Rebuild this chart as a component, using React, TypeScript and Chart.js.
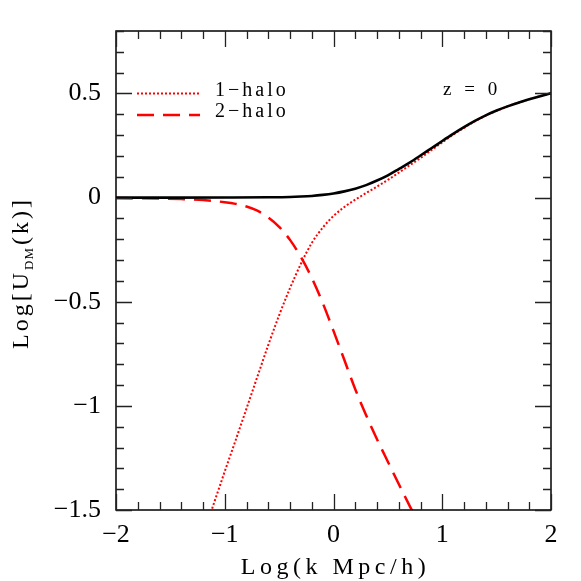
import React, { useEffect, useRef } from "react";
import { Chart, registerables } from "chart.js";

Chart.register(...registerables);

// ---- data ----
const totalLogK = [-2, -1.5, -1, -0.6, -0.4, -0.3, -0.2, -0.1, 0, 0.1, 0.2, 0.3, 0.4, 0.5, 0.6, 0.7, 0.8, 0.9, 1.0, 1.1, 1.2, 1.3, 1.4, 1.5, 1.6, 1.7, 1.8, 1.9, 2.0];
const totalU = [0, 0, 0.0005, 0.0015, 0.003, 0.005, 0.008, 0.013, 0.02, 0.03, 0.043, 0.06, 0.082, 0.107, 0.137, 0.168, 0.202, 0.237, 0.272, 0.306, 0.338, 0.368, 0.395, 0.418, 0.438, 0.456, 0.472, 0.487, 0.501];

const oneHaloLogK = [-1.14, -1.0, -0.9, -0.8, -0.7, -0.6, -0.5, -0.4, -0.3, -0.2, -0.1, 0, 0.1, 0.2, 0.3, 0.4, 0.5, 0.6, 0.7, 0.8, 0.9, 1.0, 1.1, 1.2, 1.3, 1.4, 1.5, 1.6, 1.7, 1.8, 1.9, 2.0];
const oneHaloU = [-1.53, -1.315, -1.165, -1.013, -0.86, -0.708, -0.565, -0.435, -0.318, -0.218, -0.145, -0.088, -0.045, -0.01, 0.022, 0.053, 0.085, 0.12, 0.155, 0.19, 0.228, 0.265, 0.302, 0.335, 0.366, 0.394, 0.417, 0.438, 0.456, 0.472, 0.487, 0.501];

const twoHaloLogK = [-2, -1.6, -1.4, -1.2, -1.0, -0.9, -0.8, -0.7, -0.6, -0.5, -0.4, -0.3, -0.2, -0.1, 0, 0.1, 0.2, 0.3, 0.4, 0.5, 0.6, 0.7, 0.8];
const twoHaloU = [-0.002, -0.004, -0.007, -0.012, -0.022, -0.03, -0.043, -0.063, -0.095, -0.14, -0.203, -0.285, -0.385, -0.505, -0.64, -0.78, -0.92, -1.045, -1.16, -1.268, -1.375, -1.48, -1.58];

const xTickValues = [-2, -1, 0, 1, 2];
const xTickLabels = ["−2", "−1", "0", "1", "2"];
const yTickValues = [-1.5, -1, -0.5, 0, 0.5];
const yTickLabels = ["−1.5", "−1", "−0.5", "0", "0.5"];

const seriesLabels = ["1−halo", "2−halo"];
const annotationText = "z = 0";
const xTitle = "Log(k Mpc/h)";
const yTitleParts = ["Log[U", "DM", "(k)]"];

const FONT = "'Liberation Serif', 'DejaVu Serif', serif";

function toPoints(xs: number[], ys: number[]) {
  return xs.map((x, i) => ({ x, y: ys[i] }));
}

const framePlugin = {
  id: "framePlugin",
  afterDraw(chart: any) {
    const ctx: CanvasRenderingContext2D = chart.ctx;
    const { left, right, top, bottom } = chart.chartArea;
    const xs = chart.scales.x;
    const ys = chart.scales.y;
    ctx.save();
    // frame
    ctx.strokeStyle = "#000";
    ctx.lineWidth = 1.5;
    ctx.setLineDash([]);
    ctx.strokeRect(left, top, right - left, bottom - top);
    // ticks (inside, all four sides)
    ctx.lineWidth = 1.3;
    ctx.strokeStyle = "#222";
    ctx.beginPath();
    for (let k = -10; k <= 10; k++) {
      const v = k / 5;
      const px = Math.round(xs.getPixelForValue(v)) + 0.5;
      const len = k % 5 === 0 ? 16 : 8;
      ctx.moveTo(px, bottom);
      ctx.lineTo(px, bottom - len);
      ctx.moveTo(px, top);
      ctx.lineTo(px, top + len);
    }
    for (let k = -15; k <= 8; k++) {
      const v = k / 10;
      const py = Math.round(ys.getPixelForValue(v)) + 0.5;
      const len = k % 5 === 0 ? 16 : 8;
      ctx.moveTo(left, py);
      ctx.lineTo(left + len, py);
      ctx.moveTo(right, py);
      ctx.lineTo(right - len, py);
    }
    ctx.stroke();

    // legend
    const legendX0 = left + 21;
    const legendX1 = left + 84;
    const rows = [
      { y: 93.5, dash: [2, 2], width: 2, text: seriesLabels[0], base: 96 },
      { y: 115, dash: [17, 9], width: 2.5, text: seriesLabels[1], base: 117 },
    ];
    ctx.fillStyle = "#000";
    for (const r of rows) {
      ctx.strokeStyle = "#ff0000";
      ctx.lineWidth = r.width;
      ctx.setLineDash(r.dash);
      ctx.beginPath();
      ctx.moveTo(legendX0, r.y);
      ctx.lineTo(legendX1, r.y);
      ctx.stroke();
      ctx.setLineDash([]);
      ctx.font = `20px ${FONT}`;
      (ctx as any).letterSpacing = "3px";
      ctx.textAlign = "left";
      ctx.textBaseline = "alphabetic";
      ctx.fillText(r.text, left + 99, r.base);
    }

    // annotation
    ctx.font = `19px ${FONT}`;
    (ctx as any).letterSpacing = "4px";
    ctx.fillText(annotationText, 443, 95);

    // x title
    ctx.font = `24px ${FONT}`;
    (ctx as any).letterSpacing = "4.5px";
    ctx.textAlign = "center";
    ctx.fillText(xTitle, (left + right) / 2 + 2, 574);

    // y title with subscript
    ctx.save();
    ctx.translate(28, 273);
    ctx.rotate(-Math.PI / 2);
    ctx.textAlign = "left";
    (ctx as any).letterSpacing = "3px";
    ctx.font = `24px ${FONT}`;
    const w0 = ctx.measureText(yTitleParts[0]).width;
    const w2 = ctx.measureText(yTitleParts[2]).width;
    ctx.font = `13px ${FONT}`;
    (ctx as any).letterSpacing = "1px";
    const w1 = ctx.measureText(yTitleParts[1]).width;
    const total = w0 + w1 + w2 + 2;
    let xx = -total / 2;
    ctx.font = `24px ${FONT}`;
    (ctx as any).letterSpacing = "3px";
    ctx.fillText(yTitleParts[0], xx, 0);
    xx += w0;
    ctx.font = `13px ${FONT}`;
    (ctx as any).letterSpacing = "1px";
    ctx.fillText(yTitleParts[1], xx, 5);
    xx += w1 + 2;
    ctx.font = `24px ${FONT}`;
    (ctx as any).letterSpacing = "3px";
    ctx.fillText(yTitleParts[2], xx, 0);
    ctx.restore();

    (ctx as any).letterSpacing = "0px";
    ctx.restore();
  },
};

export default function App() {
  const canvasRef = useRef<HTMLCanvasElement | null>(null);

  useEffect(() => {
    if (!canvasRef.current) return;
    const chart = new Chart(canvasRef.current, {
      type: "scatter",
      data: {
        datasets: [
          {
            label: "total",
            data: toPoints(totalLogK, totalU),
            showLine: true,
            borderColor: "#000",
            borderWidth: 2.6,
            pointRadius: 0,
            cubicInterpolationMode: "monotone",
          },
          {
            label: seriesLabels[0],
            data: toPoints(oneHaloLogK, oneHaloU),
            showLine: true,
            borderColor: "#ff0000",
            borderWidth: 2,
            borderDash: [2, 2],
            pointRadius: 0,
            cubicInterpolationMode: "monotone",
          },
          {
            label: seriesLabels[1],
            data: toPoints(twoHaloLogK, twoHaloU),
            showLine: true,
            borderColor: "#ff0000",
            borderWidth: 2.5,
            borderDash: [17, 9],
            pointRadius: 0,
            cubicInterpolationMode: "monotone",
          },
        ],
      } as any,
      options: {
        animation: false,
        responsive: true,
        maintainAspectRatio: false,
        layout: { padding: { left: 0, right: 30, top: 31, bottom: 0 } },
        plugins: {
          legend: { display: false },
          tooltip: { enabled: false },
          title: { display: false },
        },
        scales: {
          x: {
            type: "linear",
            min: -2,
            max: 2,
            grid: { display: false, drawTicks: false },
            border: { display: false },
            afterBuildTicks: (s: any) => {
              s.ticks = xTickValues.map((v) => ({ value: v }));
            },
            afterFit: (s: any) => {
              s.height = 71;
            },
            ticks: {
              autoSkip: false,
              maxRotation: 0,
              minRotation: 0,
              padding: 10,
              color: "#000",
              font: { family: FONT, size: 26 },
              callback: (_v: any, i: number) => xTickLabels[i],
            },
          },
          y: {
            type: "linear",
            min: -1.5,
            max: 0.8,
            grid: { display: false, drawTicks: false },
            border: { display: false },
            afterBuildTicks: (s: any) => {
              s.ticks = yTickValues.map((v) => ({ value: v }));
            },
            afterFit: (s: any) => {
              s.width = 116;
            },
            ticks: {
              autoSkip: false,
              padding: 15,
              color: "#000",
              font: { family: FONT, size: 26 },
              callback: (_v: any, i: number) => yTickLabels[i],
            },
          },
        },
      } as any,
      plugins: [framePlugin],
    });
    return () => chart.destroy();
  }, []);

  return (
    <div style={{ position: "fixed", left: 0, top: 0, width: 581, height: 581, background: "#fff" }}>
      <canvas ref={canvasRef} />
    </div>
  );
}
